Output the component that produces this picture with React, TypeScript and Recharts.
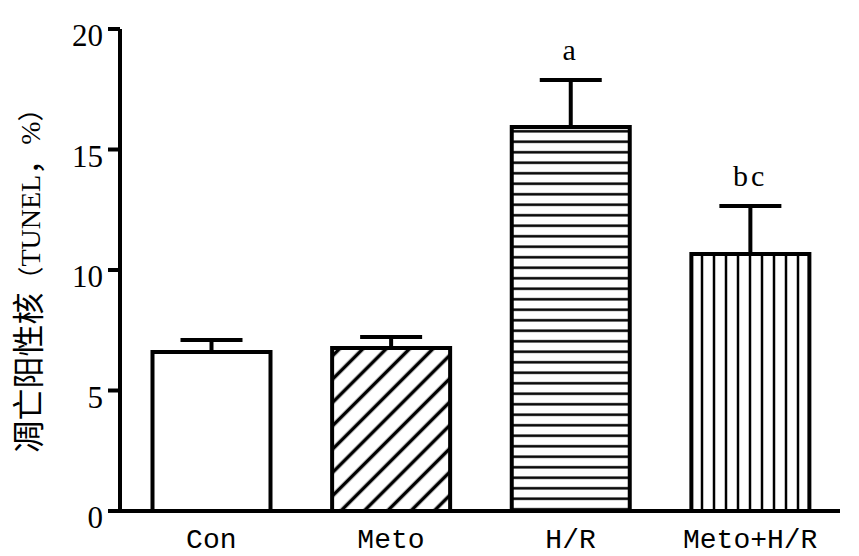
import React from 'react';
import { ComposedChart, Bar, Line, XAxis, YAxis, ErrorBar, Cell, LabelList, Label } from 'recharts';

const categories = ['Con', 'Meto', 'H/R', 'Meto+H/R'];
const means = [6.6, 6.76, 15.93, 10.66];
const sds = [0.5, 0.46, 1.95, 2.0];
const sigLabels = ['', '', 'a', 'bc'];
const yTicks = [0, 5, 10, 15, 20];
const fills = ['#ffffff', 'url(#diag)', 'url(#horiz)', 'url(#vert)'];

const data = categories.map((name, i) => ({
  name,
  mean: means[i],
  err: [0, sds[i]],
  top: means[i] + sds[i],
  sig: sigLabels[i],
}));

const CJK = "'Noto Sans CJK SC', sans-serif";
const SERIF = "'Liberation Serif', serif";

const YTick = (props: any) => {
  const { x, y, payload } = props;
  return (
    <text x={x} y={y} dy={17} textAnchor="end" fontFamily={SERIF} fontSize={31} fill="#000">
      {payload.value}
    </text>
  );
};

const XTick = (props: any) => {
  const { x, y, payload } = props;
  return (
    <text x={x} y={y} dy={29} textAnchor="middle" fontFamily="'Liberation Mono', monospace" fontSize={28} fill="#000">
      {payload.value}
    </text>
  );
};

const YLabel = (props: any) => {
  const vb = props.viewBox || { x: 0, y: 29, width: 120, height: 482 };
  const cx = vb.x + 40;
  const cy = vb.y + vb.height / 2 + 4;
  return (
    <text x={cx} y={cy} textAnchor="middle" transform={`rotate(-90 ${cx} ${cy})`} fill="#000">
      <tspan fontFamily={CJK} fontSize={32}>凋亡阳性核</tspan>
      <tspan fontFamily={CJK} fontSize={26}>（</tspan>
      <tspan fontFamily={SERIF} fontSize={28}>TUNEL</tspan>
      <tspan fontFamily={CJK} fontSize={30}>，</tspan>
      <tspan fontFamily={SERIF} fontSize={28}>%</tspan>
      <tspan fontFamily={CJK} fontSize={26}>）</tspan>
    </text>
  );
};

export default function App() {
  return (
    <div style={{ position: 'absolute', left: 0, top: 0, width: 859, height: 556, background: '#fff' }}>
      <ComposedChart width={859} height={556} data={data} margin={{ top: 29, right: 19, bottom: 0, left: 0 }}>
        <defs>
          <pattern id="diag" patternUnits="userSpaceOnUse" width="16.5" height="16.5" patternTransform="rotate(45)">
            <rect x="0" y="0" width="16.5" height="16.5" fill="#fff" />
            <line x1="8.25" y1="0" x2="8.25" y2="16.5" stroke="#000" strokeWidth="3.5" />
          </pattern>
          <pattern id="horiz" patternUnits="userSpaceOnUse" width="10" height="10.5">
            <rect x="0" y="0" width="10" height="10.5" fill="#fff" />
            <line x1="0" y1="5.25" x2="10" y2="5.25" stroke="#000" strokeWidth="2.5" />
          </pattern>
          <pattern id="vert" patternUnits="userSpaceOnUse" width="12" height="10">
            <rect x="0" y="0" width="12" height="10" fill="#fff" />
            <line x1="6" y1="0" x2="6" y2="10" stroke="#000" strokeWidth="2.5" />
          </pattern>
        </defs>
        <XAxis
          dataKey="name"
          height={45}
          padding={{ left: 1.5, right: 0 }}
          tickLine={false}
          axisLine={{ stroke: '#000', strokeWidth: 4 }}
          tick={<XTick />}
          interval={0}
        />
        <YAxis
          width={120}
          domain={[0, 20]}
          ticks={yTicks}
          tickSize={12}
          tickMargin={5}
          axisLine={{ stroke: '#000', strokeWidth: 4 }}
          tickLine={{ stroke: '#000', strokeWidth: 4 }}
          tick={<YTick />}
        >
          <Label content={<YLabel />} />
        </YAxis>
        <Bar dataKey="mean" barSize={118} stroke="#000" strokeWidth={4} isAnimationActive={false}>
          {data.map((d, i) => (
            <Cell key={d.name} fill={fills[i]} />
          ))}
          <ErrorBar dataKey="err" width={31} stroke="#000" strokeWidth={4} direction="y" />
        </Bar>
        <Line dataKey="top" stroke="none" dot={false} activeDot={false} isAnimationActive={false} legendType="none">
          <LabelList
            dataKey="sig"
            position="top"
            offset={20}
            fontFamily={SERIF}
            fontSize={30}
            fill="#000"
            letterSpacing={3}
          />
        </Line>
      </ComposedChart>
    </div>
  );
}
